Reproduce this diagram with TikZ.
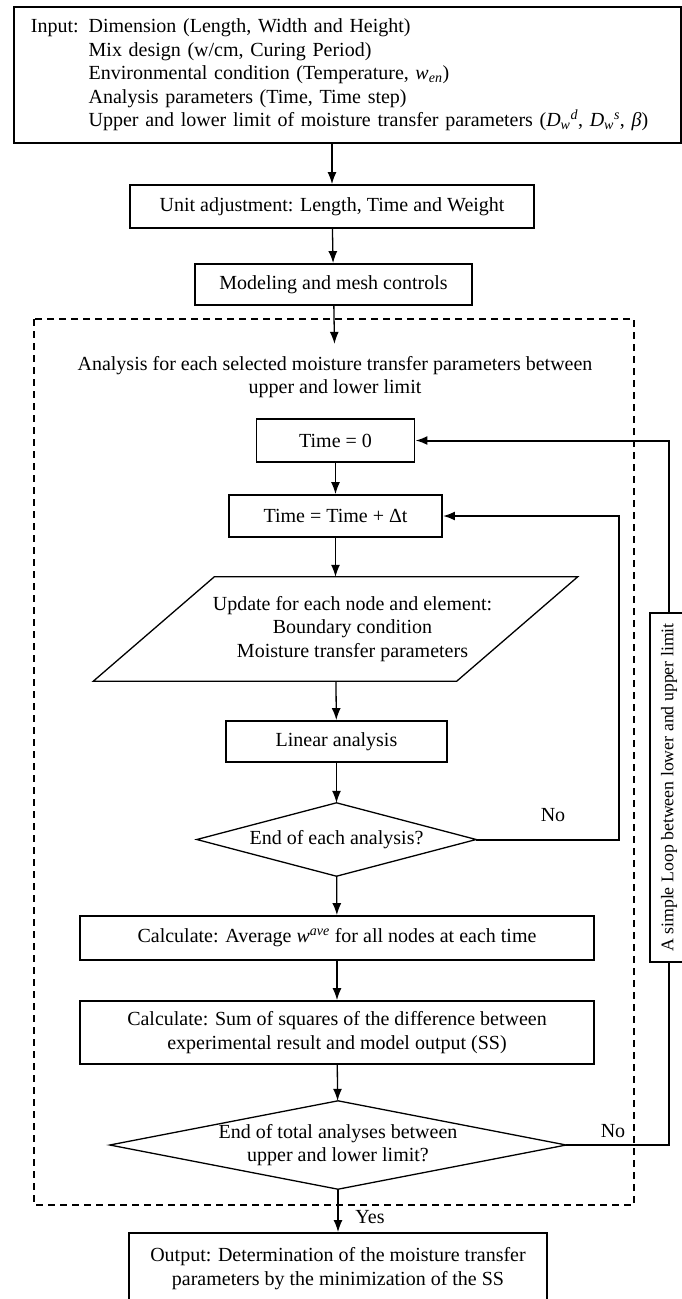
\documentclass[tikz,border=0pt]{standalone}
\usepackage{fontspec}
\setmainfont{Liberation Serif}
\usetikzlibrary{arrows.meta}

\begin{document}
\begin{tikzpicture}[x=1pt,y=-1pt,
  font=\fontsize{20}{23.5}\selectfont,
  box/.style={draw,line width=1.8pt,inner sep=0pt,align=center},
  plain/.style={inner sep=0pt,align=center},
  link/.style={line width=1.3pt,-{Latex[length=12pt,width=9pt]}},
  loopline/.style={line width=2pt,-{Latex[length=12pt,width=9pt]}}]
  \useasboundingbox (0,0) rectangle (681,1299);
  \node[box,anchor=north west,minimum width=667,minimum height=136,text width=633,align=left] (input) at (13,6)
    {Input: Dimension (Length, Width and Height)\\
     \phantom{Input: }Mix design (w/cm, Curing Period)\\
     \phantom{Input: }Environmental condition (Temperature, \textit{w}\textsubscript{\textit{en}})\\
     \phantom{Input: }Analysis parameters (Time, Time step)\\
     \phantom{Input: }Upper and lower limit of moisture transfer parameters (\textit{D}\textsubscript{\textit{w}}\textsuperscript{\textit{d}}, \textit{D}\textsubscript{\textit{w}}\textsuperscript{\textit{s}}, \textit{β})};
  \node[box,minimum width=404,minimum height=43] (unit) at (332,206.5) {Unit adjustment: Length, Time and Weight};
  \node[box,minimum width=277,minimum height=41] (model) at (333.5,284.5) {Modeling and mesh controls};
  \draw[line width=1.8pt,dash pattern=on 7pt off 5pt] (34,319) rectangle (634,1205);
  \node[plain,inner ysep=12pt] (analysis) at (335,377) {Analysis for each selected moisture transfer parameters between\\upper and lower limit};
  \node[box,minimum width=158,minimum height=43] (time0) at (335.5,440.5) {Time = 0};
  \node[box,minimum width=213,minimum height=42] (tstep) at (335.5,516) {Time = Time + Δt};
  \node[plain,minimum width=363,minimum height=104] (update) at (335.5,629)
    {\hspace*{34pt}\begin{tabular}{@{}c@{}}Update for each node and element:\\Boundary condition\\Moisture transfer parameters\end{tabular}};
  \node[box,minimum width=221,minimum height=41] (linear) at (336.5,741.5) {Linear analysis};
  \node[plain,minimum width=279,minimum height=73] (endeach) at (336.5,839.5) {End of each analysis?};
  \node[box,minimum width=514,minimum height=44] (avg) at (337,938) {Calculate: Average \textit{w}\textsuperscript{\textit{ave}} for all nodes at each time};
  \node[box,minimum width=514,minimum height=63] (ss) at (337,1032.5) {Calculate: Sum of squares of the difference between\\experimental result and model output (SS)};
  \node[plain,minimum width=456,minimum height=88] (endtotal) at (338,1145) {End of total analyses between\\upper and lower limit?};
  \node[box,anchor=north,minimum width=418,inner ysep=15pt] (output) at (338,1232) {Output: Determination of the moisture transfer\\parameters by the minimization of the SS};
  \node[draw,line width=1.5pt,rotate=90,inner sep=0pt,minimum width=349,minimum height=38,font=\fontsize{17.8}{20}\selectfont] (looplabel) at (669,787.5) {A simple Loop between lower and upper limit};
  \node (no1) at (553,815) {No};
  \node (no2) at (613,1131) {No};
  \node (yes) at (370,1217) {Yes};
  % shapes around text
  \draw[line width=1.3pt] ([xshift=60.5pt]update.north west) -- ([xshift=60.5pt]update.north east)
    -- ([xshift=-60.5pt]update.south east) -- ([xshift=-60.5pt]update.south west) -- cycle;
  \foreach \d in {endeach,endtotal}
    \draw[line width=1.3pt] (\d.north) -- (\d.east) -- (\d.south) -- (\d.west) -- cycle;
  % main flow
  \draw[link] (input.south -| unit) -- (unit);
  \draw[link] (unit) -- (model);
  \draw[link] (model) -- (analysis);
  \draw[link] (time0) -- (tstep);
  \draw[link] (tstep) -- (update);
  \draw[link] (update) -- (linear);
  \draw[link] (linear) -- (endeach);
  \draw[link] (endeach) -- (avg);
  \draw[link] (avg) -- (ss);
  \draw[link] (ss) -- (endtotal);
  \draw[link] (endtotal) -- (output);
  % loops
  \draw[loopline] (endeach.east) -- ++(143,0) |- (tstep.east);
  \draw[line width=2pt] (endtotal.east) -| (looplabel.west);
  \draw[loopline] (looplabel.east) |- (time0.east);
\end{tikzpicture}
\end{document}
